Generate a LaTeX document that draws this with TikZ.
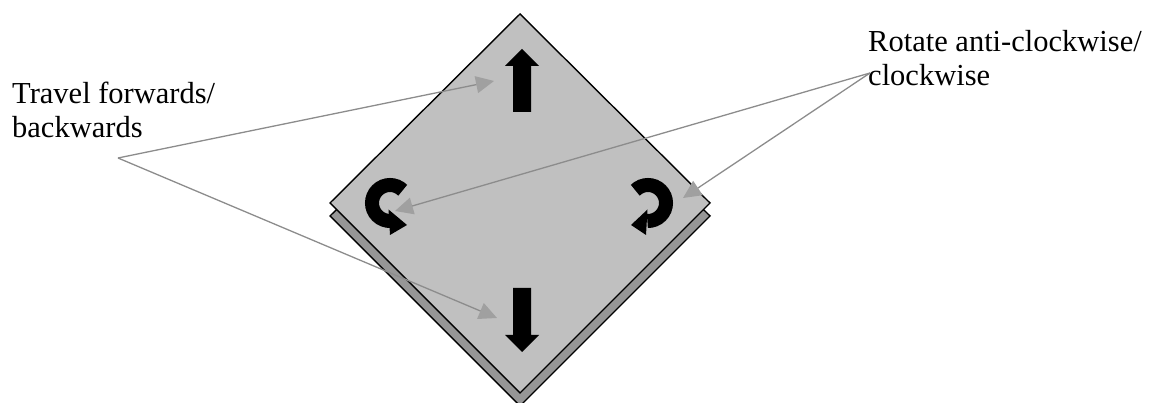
\documentclass[tikz,border=0pt]{standalone}
\usepackage{fontspec}
\setmainfont{Liberation Serif}
\usetikzlibrary{arrows.meta}
\definecolor{padgrey}{HTML}{C0C0C0}
\definecolor{shadegrey}{HTML}{969696}
\definecolor{leadgrey}{HTML}{8C8C8C}
\definecolor{tipgrey}{HTML}{A0A0A0}

\begin{document}
\begin{tikzpicture}[x=1pt,y=1pt,
  lbl/.style={align=left,inner sep=0pt,font=\fontsize{30.5}{34}\selectfont},
  lead/.style={draw=leadgrey,line width=1.3pt,-{Triangle[length=18pt,width=17pt,color=tipgrey]}},
  pad/.style={draw=black,line width=1.4pt,line join=miter},
  turn/.style={draw=black,line width=14pt}]
\useasboundingbox (0,0) rectangle (1156,403);
% pad with its shadow
\filldraw[pad,fill=shadegrey] (520,376) -- (710,187) -- (520,-3) -- (330,187) -- cycle;
\filldraw[pad,fill=padgrey] (520,389) -- (710,200) -- (520,10) -- (330,200) -- cycle;
% forwards / backwards
\fill (522,354) -- (539,337) -- (531,337) -- (531,291) -- (513,291) -- (513,337) -- (505,337) -- cycle;
\fill (522,51) -- (539,68) -- (531,68) -- (531,115) -- (513,115) -- (513,68) -- (505,68) -- cycle;
% anti-clockwise / clockwise
\draw[turn] (390,200) ++(45:18) arc[start angle=45,end angle=272,radius=18];
\fill (388.5,193.5) -- (407,178) -- (390,168) -- cycle;
\draw[turn] (648,200) ++(135:18) arc[start angle=135,end angle=-92,radius=18];
\fill (647.5,193.5) -- (631,178) -- (646,168) -- cycle;
% labels
\node[lbl,anchor=base west] (travel) at (12,265) {Travel forwards/\\backwards};
\node[lbl,anchor=base west] (rotate) at (868,317) {Rotate anti-clockwise/\\clockwise};
\coordinate (travelfork) at (118,245);
\coordinate (rotatefork) at (870,330);
\coordinate (fwd) at (494,322);
\coordinate (back) at (497,85);
\coordinate (acw) at (395,192);
\coordinate (cw) at (683,205);
\draw[lead] (travelfork) -- (fwd);
\draw[lead] (travelfork) -- (back);
\draw[lead] (rotatefork) -- (acw);
\draw[lead] (rotatefork) -- (cw);
\end{tikzpicture}
\end{document}
